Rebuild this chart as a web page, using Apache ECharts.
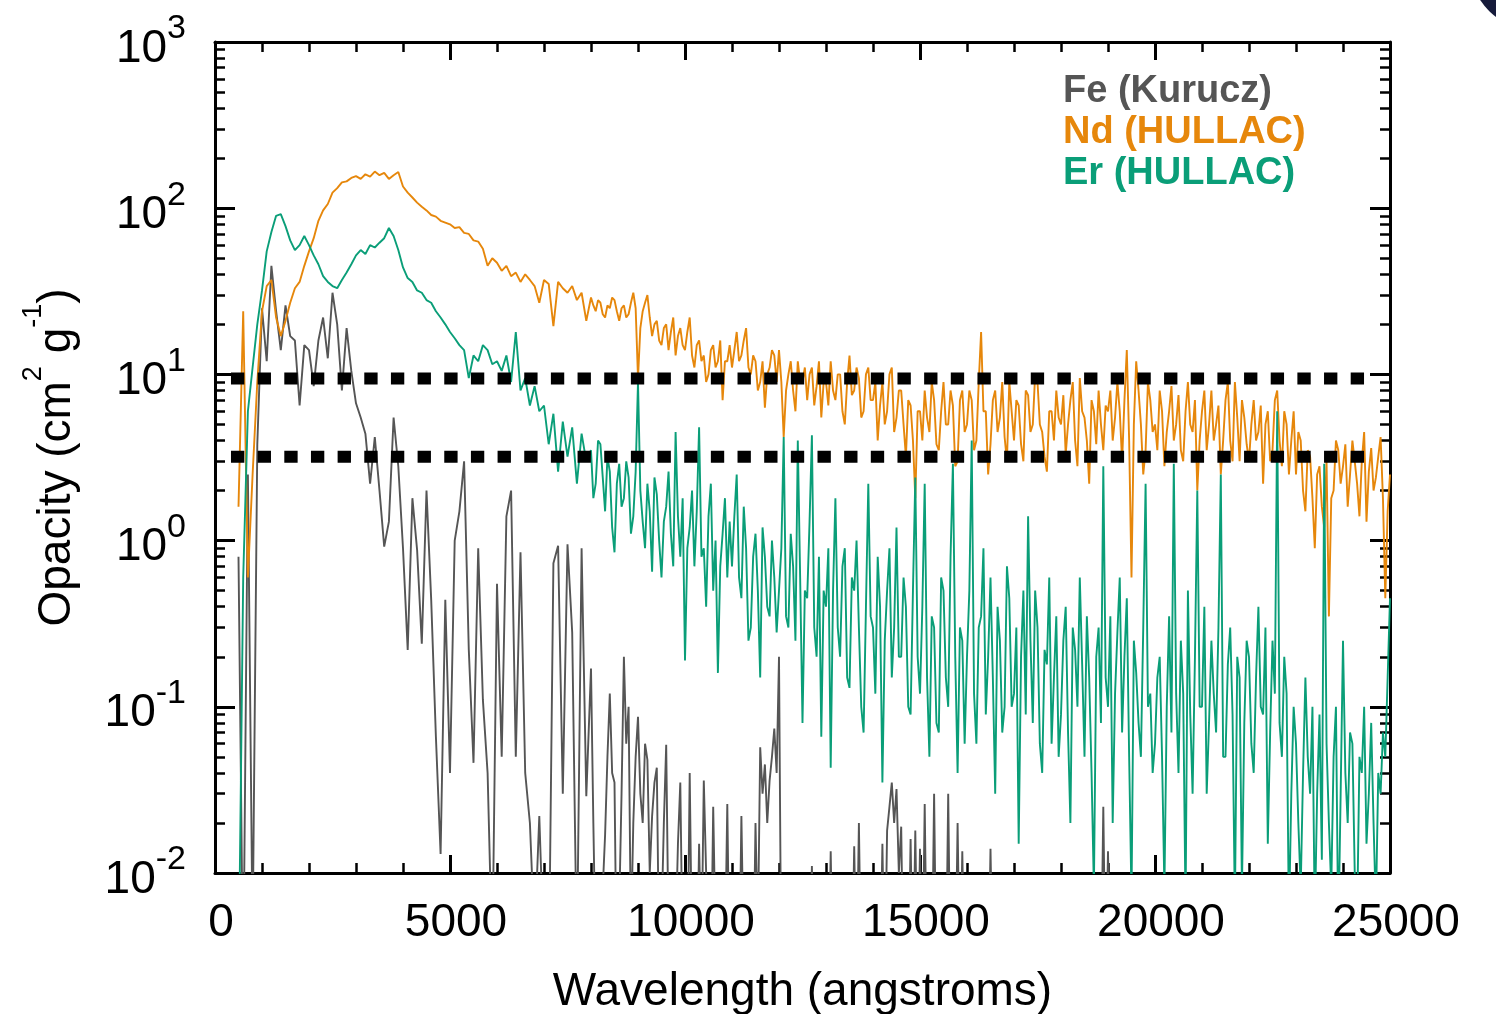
<!DOCTYPE html>
<html>
<head>
<meta charset="utf-8">
<script src="https://cdn.jsdelivr.net/npm/echarts@6/dist/echarts.min.js"></script>
<style>
html,body{margin:0;padding:0;background:#fff;}
#chart{width:1496px;height:1014px;}
</style>
</head>
<body>
<div id="chart"></div>
<script>
// Wavelength sampling grid (angstroms): 0..7900 every 100, then 8000..25000 every 50
const WL_COARSE = { start: 0, step: 100, end: 7900 };
const WL_FINE = { start: 8000, step: 50, end: 25000 };
const WAVELENGTH = [];
for (let w = WL_COARSE.start; w <= WL_COARSE.end; w += WL_COARSE.step) WAVELENGTH.push(w);
for (let w = WL_FINE.start; w <= WL_FINE.end; w += WL_FINE.step) WAVELENGTH.push(w);

// Fe (Kurucz) opacity, cm^2/g (values below 0.01 lie below the plotted range)
const FE = [
  // 0 - 7900 (step 100)
  null,null,null,null,null,0.8,0.002,2.5,0.004,3.8,
  25,12,45,24,14,26,17,16,6.5,15,
  14,8.5,16,22,12.5,31,20,8,19,10.5,
  6.7,5.5,4.4,2.2,4.2,2.0,0.92,1.3,5.5,2.8,
  0.9,0.22,1.8,0.88,0.24,2.0,0.44,0.066,0.013,0.44,
  0.04,1.0,1.5,3.0,0.22,0.046,0.9,0.11,0.04,0.003,
  0.55,0.05,1.4,2.0,0.05,0.85,0.04,0.02,0.004,0.022,
  0.003,0.002,0.73,0.93,0.03,0.95,0.28,0.003,0.9,0.029,
  // 8000 - 19100 (step 50)
  0.17,0.02,0.003,0.002,0.004,0.008,0.017,0.05,0.12,0.04,0.035,0.002,0.006,0.03,0.2,0.06,0.1,0.004,0.02,0.05,
  0.087,0.03,0.02,0.06,0.048,0.01,0.022,0.035,0.043,0.003,0.005,0.02,0.059,0.004,0.003,0.002,0.004,0.015,0.035,0.003,
  0.004,0.002,0.04,0.003,0.005,0.002,0.015,0.003,0.036,0.01,0.006,0.002,0.025,0.004,0.003,0.002,0.004,0.003,0.026,0.002,
  0.003,0.002,0.004,0.002,0.022,0.003,0.004,0.002,0.003,0.002,0.02,0.004,0.057,0.03,0.045,0.02,0.036,0.05,0.074,0.04,
  0.2,0.002,0.003,0.002,0.002,0.002,0.003,0.002,0.002,0.002,0.003,0.002,0.002,0.002,0.011,0.002,0.002,0.002,0.003,0.002,
  0.002,0.002,0.0135,0.002,0.003,0.002,0.002,0.002,0.003,0.002,0.002,0.002,0.0145,0.002,0.02,0.002,0.003,0.002,0.002,0.002,
  0.003,0.002,0.002,0.002,0.015,0.002,0.018,0.025,0.035,0.02,0.032,0.01,0.019,0.002,0.003,0.002,0.016,0.002,0.018,0.002,
  0.014,0.002,0.026,0.002,0.003,0.002,0.03,0.002,0.002,0.002,0.003,0.002,0.03,0.002,0.002,0.002,0.02,0.002,0.0135,0.002,
  0.002,0.002,0.003,0.002,0.002,0.002,0.003,0.002,0.002,0.002,0.014,0.002,0.002,0.002,0.003,0.002,0.002,0.002,0.003,0.002,
  0.002,0.002,0.002,0.002,0.002,0.002,0.002,0.002,0.002,0.002,0.002,0.002,0.002,0.002,0.002,0.002,0.002,0.002,0.002,0.002,
  0.002,0.002,0.002,0.002,0.002,0.002,0.002,0.002,0.002,0.002,0.002,0.002,0.002,0.002,0.002,0.002,0.002,0.002,0.025,0.002,
  0.0135,0.002,0.002
];

// Nd (HULLAC) opacity, cm^2/g
const ND = [
  // 0 - 7900 (step 100)
  null,null,null,null,null,1.6,24,0.6,2.5,9,
  24,34,37,22,17,21,27,33,36,45,
  55,66,84,97,106,124,132,143,145,152,
  156,150,160,155,166,158,163,150,158,165,
  135,124,116,108,102,97,91,89,84,82,
  80,76,77,71,70,64,63,57,45,50,
  47,42,45,39,41,36,40,37,34,27,
  37,35,19.5,36,33,31,34,28,31,21,
  // 8000 - 25000 (step 50)
  29,26,24,28,27,23,22,26,25,29,28,24,21,25,26,22,23,27,31,25,
  9.5,19,24,27,30,22,17,20,21,16,15,19,20,14,18,22,13,17,19,15,
  14,18,22,13,11,15,16,12,13,9,10,14,15,11,12,16,7,12,12,15,
  11,14,18,12,13,16,19,11,10,13,12,8,9,12,6.3,10,11,14,13,9,
  14,9,4.2,8,10,12,8,6,12,9,9,11,7,10,11,6.5,8.5,12,5.5,9,
  9,6.5,12,8,7,10,10,6,5,9,13,7.5,8,11,9.5,5.5,6,10,11,7,
  7,9,4,6.5,9,5,6,10,11,4.5,5.5,8,8,5,3.2,7,6.5,4,1.8,6,
  6,4,8,5.5,4.5,9,7,3.8,3.5,6,9,5,5,8,6.5,2.8,3,7,8,4.5,
  5,8,7,3.5,4,9,18,6,6,2.5,3.8,7,8,4.5,5.5,9,4.2,3,9,6,
  4,7,6.5,3.8,3,8,7.5,4.5,5,10,9,5,4.5,3.2,2.6,6,6,4,8,5.5,
  5,7.5,3.3,5,7,9,4,2.8,9.5,6,5.5,4,2.2,7,6,3.8,8,5,3.5,6.5,
  6,8,4,5.5,9,6,3,7,14,4,0.6,5,12,8,5,2.5,3.5,9,7,4.5,
  5,3.5,8,6,2.8,4.5,6,8.5,4,5,7.5,3.5,3,6,9,5,4.5,7,2,4,
  6,8,3.5,5,8,4,5,6.5,2.5,4,7,9,4,3,9,5.5,3,7,5.5,3.8,
  3,5,7,4,4.5,6.5,2.2,5,6,3,3.5,7,8,4,2.8,6,5,2.5,4,6,
  2.5,4.5,4,2,1.5,3.5,3.2,1.8,0.9,2.5,2.8,1.6,1.2,3,0.35,1.8,2,4,3.5,2.2,
  2.8,3.8,1.6,2.5,4,3,2.2,1.4,3,4.5,1.3,2.6,3.6,2,2.4,3.2,4.2,1.8,0.45,1.5,
  2.5
];

// Er (HULLAC) opacity, cm^2/g
const ER = [
  // 0 - 7900 (step 100)
  null,null,null,null,null,0.002,0.6,6,11,20,
  32,55,72,90,92,78,64,56,60,68,
  60,52,46,39,36,34,33,37,41,46,
  52,56,53,60,58,62,66,76,68,56,
  44,38,36,32,31,28,27,24,22,20,
  18,16.5,15,14,9.5,13,12,15,14,11.5,
  12,10.5,13,9,18,8,9.5,6.5,8.5,6,
  6.5,3.8,5.8,2.6,5.2,3.2,4.8,2.2,4.4,3.0,
  // 8000 - 25000 (step 50)
  3.5,1.8,2.2,4.0,3.8,2.4,1.5,3.2,2.6,1.2,0.85,2.2,2.9,1.6,1.8,3.0,2.4,1.1,1.4,2.6,
  9,2.0,1.3,0.9,2.2,1.5,0.65,2.4,1.9,1.0,0.6,1.3,1.6,2.6,1.1,0.7,4.5,1.4,0.8,1.8,
  0.19,0.9,1.2,2.0,0.7,1.5,4.8,0.8,0.9,0.4,1.4,2.2,0.5,1.0,0.16,0.7,1.1,1.8,0.6,1.3,
  0.7,1.4,2.5,0.6,0.45,1.6,0.9,0.25,0.3,0.8,1.1,0.5,0.15,1.2,0.8,0.4,0.35,1.0,0.6,0.28,
  0.5,0.9,4.2,0.35,0.3,1.1,0.7,0.25,4.0,0.6,0.08,0.5,0.45,1.3,4.3,0.3,0.2,0.8,0.066,0.5,
  0.4,0.9,0.043,0.5,1.8,0.3,0.2,0.7,0.9,0.15,0.13,0.6,0.5,1.0,0.3,0.1,0.07,0.4,2.2,0.35,
  0.3,0.12,0.8,0.4,0.035,0.25,0.5,0.9,0.15,0.3,1.2,0.2,0.2,0.6,0.4,0.1,0.09,0.5,2.4,0.2,
  0.12,0.4,2.2,0.15,0.05,0.35,0.3,0.08,0.07,0.6,0.5,0.15,0.1,0.8,2.9,0.2,0.04,0.3,0.25,0.06,
  0.2,0.5,4.0,0.12,0.06,0.3,0.35,0.9,0.09,0.2,0.6,0.15,0.03,0.4,0.25,0.07,0.1,0.7,0.45,0.1,
  0.12,0.3,0.015,0.2,0.5,0.09,1.4,0.25,0.08,0.5,0.3,0.06,0.04,0.22,0.18,0.6,0.06,0.15,0.35,0.05,
  0.09,0.25,0.4,0.07,0.02,0.3,0.22,0.1,0.6,0.18,0.05,0.35,0.15,0.04,0.008,0.2,0.3,0.08,2.8,0.15,
  0.1,0.35,0.02,0.12,0.28,0.6,0.07,0.2,0.45,0.05,0.007,0.25,0.16,0.08,0.05,0.3,2.2,0.1,0.12,0.04,
  0.06,0.15,0.2,0.05,0.008,0.1,0.35,0.07,2.9,0.12,0.04,0.25,0.12,0.006,0.5,0.09,0.03,0.2,2.0,0.1,
  0.1,0.4,0.03,0.08,0.25,0.12,0.07,0.3,2.5,0.05,0.05,0.18,0.3,0.09,0.006,0.2,0.15,0.008,0.08,0.25,
  0.2,0.06,0.04,0.15,0.4,0.1,0.09,0.3,0.015,0.07,0.25,0.12,6.0,0.08,0.05,0.2,0.12,0.005,0.03,0.1,
  0.06,0.02,0.008,0.04,0.15,0.05,0.03,0.1,0.005,0.03,0.09,0.012,2.9,0.06,0.02,0.008,0.05,0.1,0.004,0.03,
  0.25,0.04,0.02,0.07,0.06,0.01,0.005,0.05,0.04,0.1,0.015,0.03,0.08,0.02,0.006,0.04,0.03,0.07,0.05,0.15,
  0.45
];

// Horizontal dotted reference levels and their wavelength span
const REF_LEVELS = [9.45, 3.2];
const REF_SPAN = [340, 24470];

// Axis ticks
const X_TICKS = [0, 5000, 10000, 15000, 20000, 25000];
const Y_DECADES = [0.01, 0.1, 1, 10, 100, 1000];
const Y_MINOR = [
  0.02,0.03,0.04,0.05,0.06,0.07,0.08,0.09,
  0.2,0.3,0.4,0.5,0.6,0.7,0.8,0.9,
  2,3,4,5,6,7,8,9,
  20,30,40,50,60,70,80,90,
  200,300,400,500,600,700,800,900
];

const SERIES_NAMES = ['Fe (Kurucz)', 'Nd (HULLAC)', 'Er (HULLAC)'];
const SERIES_COLORS = ['#555555', '#E6870B', '#0A9E78'];

const FONT = '"Liberation Sans", Arial, Helvetica, sans-serif';

function pairs(vals) {
  const out = [];
  for (let i = 0; i < WAVELENGTH.length; i++) {
    if (vals[i] !== null && vals[i] !== undefined) out.push([WAVELENGTH[i], vals[i]]);
  }
  return out;
}

const L10_MIN = Math.log10(Y_DECADES[0]);
const L10_MAX = Math.log10(Y_DECADES[Y_DECADES.length - 1]);

const frameLine = { show: true, onZero: false, lineStyle: { color: '#000', width: 3 } };
const noLine = { show: false, onZero: false };

const option = {
  animation: false,
  backgroundColor: '#ffffff',
  grid: { left: 215, right: 106, top: 42, bottom: 141, containLabel: false, outerBoundsMode: 'none' },
  legend: {
    orient: 'vertical',
    left: 1053,
    top: 66,
    icon: 'none',
    itemWidth: 0,
    itemHeight: 42,
    itemGap: 1,
    selectedMode: false,
    textStyle: { fontSize: 38, fontWeight: 'bold', fontFamily: FONT },
    data: SERIES_NAMES.map((n, i) => ({ name: n, textStyle: { color: SERIES_COLORS[i] } }))
  },
  graphic: [
    { type: 'circle', shape: { cx: 1540, cy: -40, r: 72 }, style: { fill: '#161b3b' }, silent: true }
  ],
  xAxis: [
    {
      type: 'value', position: 'bottom',
      min: X_TICKS[0], max: X_TICKS[X_TICKS.length - 1], interval: X_TICKS[1] - X_TICKS[0],
      axisLine: frameLine,
      axisTick: { show: true, inside: true, length: 18, lineStyle: { color: '#000', width: 3 } },
      minorTick: { show: true, splitNumber: 5, length: 10, lineStyle: { color: '#000', width: 2.5 } },
      splitLine: { show: false },
      axisLabel: {
        show: true, margin: 27, fontSize: 46, color: '#000', fontFamily: FONT,
        padding: [0, 0, 0, 12],
        formatter: v => String(v)
      },
      name: 'Wavelength (angstroms)', nameLocation: 'middle', nameGap: 96,
      nameTextStyle: { fontSize: 46, color: '#000', fontFamily: FONT }
    },
    {
      type: 'value', position: 'top',
      min: X_TICKS[0], max: X_TICKS[X_TICKS.length - 1], interval: X_TICKS[1] - X_TICKS[0],
      axisLine: frameLine,
      axisTick: { show: true, inside: true, length: 18, lineStyle: { color: '#000', width: 3 } },
      minorTick: { show: true, splitNumber: 5, length: 10, lineStyle: { color: '#000', width: 2.5 } },
      splitLine: { show: false },
      axisLabel: { show: false }
    }
  ],
  yAxis: [
    {
      type: 'log', logBase: 10, position: 'left',
      min: Y_DECADES[0], max: Y_DECADES[Y_DECADES.length - 1],
      axisLine: frameLine,
      axisTick: { show: true, inside: true, length: 20, lineStyle: { color: '#000', width: 3 } },
      minorTick: { show: false },
      splitLine: { show: false },
      axisLabel: {
        show: true, margin: 29, color: '#000', fontFamily: FONT,
        formatter: v => '{b|10}{s|' + Math.round(Math.log10(v)) + '}',
        rich: {
          b: { fontSize: 46, fontFamily: FONT, color: '#000', verticalAlign: 'bottom', padding: [14, 0, 0, 0] },
          s: { fontSize: 34, fontFamily: FONT, color: '#000', verticalAlign: 'top' }
        }
      },
      name: '{a|Opacity (cm}{s|2}{a| g}{s|-1}{a|)}',
      nameLocation: 'middle', nameGap: 135, nameRotate: 90,
      nameTextStyle: {
        color: '#000', fontFamily: FONT,
        rich: {
          a: { fontSize: 46, fontFamily: FONT, color: '#000', verticalAlign: 'bottom', padding: [14, 0, 0, 0] },
          s: { fontSize: 27, fontFamily: FONT, color: '#000', verticalAlign: 'top' }
        }
      }
    },
    {
      type: 'value', position: 'left', min: L10_MIN, max: L10_MAX,
      axisLine: noLine,
      axisTick: { show: true, inside: true, length: 10, lineStyle: { color: '#000', width: 2.5 },
                  customValues: Y_MINOR.map(v => Math.log10(v)) },
      axisLabel: { show: false },
      splitLine: { show: false }
    },
    {
      type: 'value', position: 'right', min: L10_MIN, max: L10_MAX, interval: 1,
      axisLine: frameLine,
      axisTick: { show: true, inside: true, length: 20, lineStyle: { color: '#000', width: 3 } },
      axisLabel: { show: false },
      splitLine: { show: false }
    },
    {
      type: 'value', position: 'right', min: L10_MIN, max: L10_MAX,
      axisLine: noLine,
      axisTick: { show: true, inside: true, length: 10, lineStyle: { color: '#000', width: 2.5 },
                  customValues: Y_MINOR.map(v => Math.log10(v)) },
      axisLabel: { show: false },
      splitLine: { show: false }
    }
  ],
  series: [
    { name: SERIES_NAMES[0], data: pairs(FE), color: SERIES_COLORS[0] },
    { name: SERIES_NAMES[1], data: pairs(ND), color: SERIES_COLORS[1] },
    { name: SERIES_NAMES[2], data: pairs(ER), color: SERIES_COLORS[2] }
  ].map(s => ({
    type: 'line', name: s.name, data: s.data,
    xAxisIndex: 0, yAxisIndex: 0,
    showSymbol: false, symbol: 'none', clip: true,
    lineStyle: { color: s.color, width: 1.9 },
    itemStyle: { color: s.color },
    emphasis: { disabled: true }, silent: true
  })).concat(REF_LEVELS.map((lvl, i) => ({
    type: 'line', name: 'ref' + i,
    data: [[REF_SPAN[0], lvl], [REF_SPAN[1], lvl]],
    xAxisIndex: 0, yAxisIndex: 0,
    showSymbol: false, symbol: 'none', silent: true, z: 5,
    lineStyle: { color: '#000', width: 12, type: [13.33, 13.33], cap: 'butt' },
    emphasis: { disabled: true }
  })))
};

const chart = echarts.init(document.getElementById('chart'), null, { renderer: 'canvas' });
chart.setOption(option);
</script>
</body>
</html>
